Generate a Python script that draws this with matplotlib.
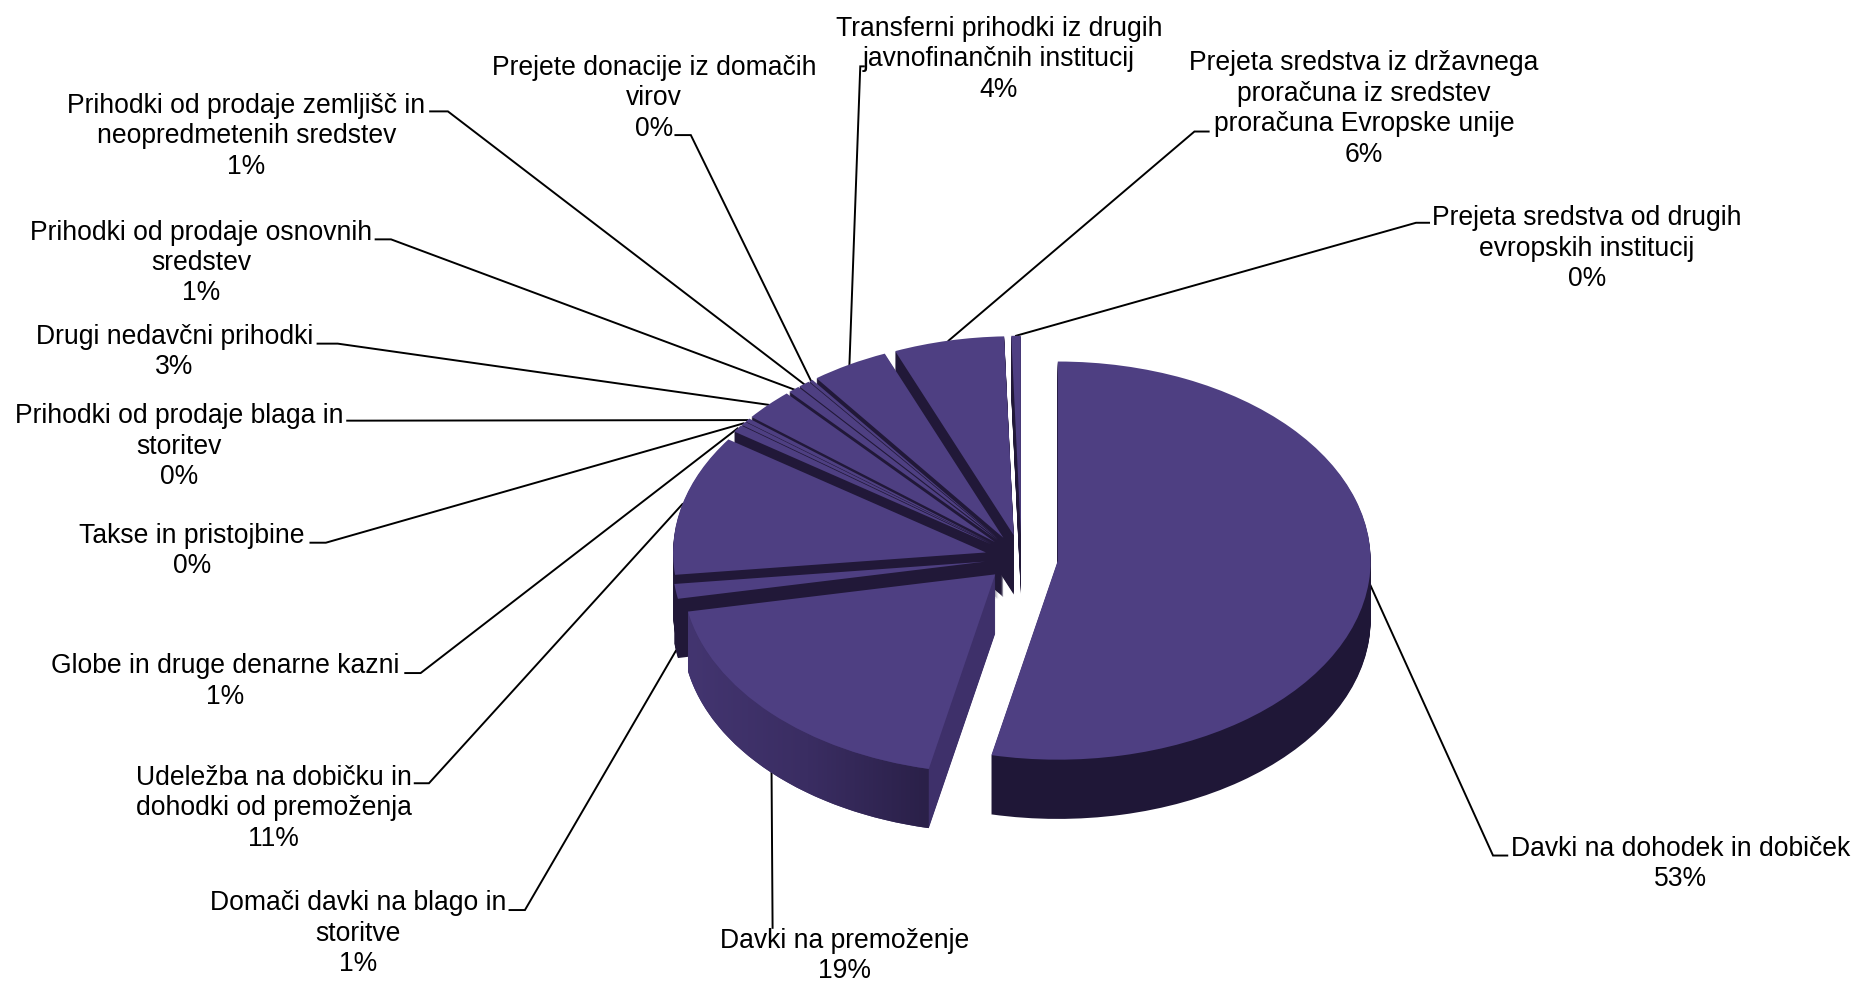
import numpy as np
import matplotlib
matplotlib.use("Agg")
import matplotlib.pyplot as plt
from matplotlib.colors import LinearSegmentedColormap
from matplotlib.patches import Polygon

plt.rcParams['font.family'] = ['Liberation Sans', 'DejaVu Sans']

# --- data -------------------------------------------------------------
categories = [
    "Davki na dohodek in dobiček\n53%",
    "Davki na premoženje\n19%",
    "Domači davki na blago in\nstoritve\n1%",
    "Udeležba na dobičku in\ndohodki od premoženja\n11%",
    "Globe in druge denarne kazni\n1%",
    "Takse in pristojbine\n0%",
    "Prihodki od prodaje blaga in\nstoritev\n0%",
    "Drugi nedavčni prihodki\n3%",
    "Prihodki od prodaje osnovnih\nsredstev\n1%",
    "Prihodki od prodaje zemljišč in\nneopredmetenih sredstev\n1%",
    "Prejete donacije iz domačih\nvirov\n0%",
    "Transferni prihodki iz drugih\njavnofinančnih institucij\n4%",
    "Prejeta sredstva iz državnega\nproračuna iz sredstev\nproračuna Evropske unije\n6%",
    "Prejeta sredstva od drugih\nevropskih institucij\n0%",
]
values = [53.4, 18.6, 1.2, 11.4, 0.6, 0.3, 0.3, 2.6, 0.6, 0.6, 0.2, 4.0, 5.7, 0.49]

# label layout, measured on a 1568-wide view of the picture
label_x = [1418, 713, 302, 231, 190, 162, 151, 147, 170, 208, 552, 843, 1151, 1339]
label_y = [729, 807, 788, 682, 575, 465, 377, 297, 222, 115, 83, 50, 92, 210]
elbow_a = [(1260, 722), (652, 783), (443, 768), (362, 661), (355, 568), (275, 458),
           (305, 355), (285, 290), (330, 202), (378, 94), (583, 114), (726, 56),
           (1008, 111), (1195, 188)]
elbow_b = [(1272, 722), (652, 783), (430, 768), (350, 661), (342, 568), (262, 458),
           (293, 355), (268, 290), (317, 202), (363, 94), (570, 114), (729, 56),
           (1020, 111), (1206, 188)]
leader_drop = [0, 0, 1, 0, 0, 0, 0, 0, 0, 0, 0, 0, 0, 0]

# --- style ------------------------------------------------------------
W, H = 1858, 983
VIEW = W / 1568
TOP = '#4e3f82'
DARK = '#211838'
BIG_SIDE = '#1f1737'
PREM_WALL = '#3e306a'
EXPLODE = [0.117] * len(values)
CX, CY = 862 * VIEW, 471 * VIEW      # centre in pixels
RX, RY = 264 * VIEW, 168 * VIEW      # radii in pixels
DEPTH_PX = 50 * VIEW

fig = plt.figure(figsize=(W / 100, H / 100), dpi=100, facecolor='white')
ax = fig.add_axes([0, 0, 1, 1])


def to_data(p):
    return ((p[0] * VIEW - CX) / RX, (CY - p[1] * VIEW) / RY)


side_colors = [BIG_SIDE, PREM_WALL] + [DARK] * (len(values) - 2)
dz = DEPTH_PX / RY
n_layers = int(round(DEPTH_PX))
for z in np.linspace(dz, 0, n_layers, endpoint=False):
    ax.pie(values, explode=EXPLODE, colors=side_colors, startangle=90,
           counterclock=False, center=(0, -z), radius=1,
           wedgeprops=dict(linewidth=0))

top, _ = ax.pie(values, explode=EXPLODE, colors=[TOP] * len(values), startangle=90,
                counterclock=False, center=(0, 0), radius=1,
                wedgeprops=dict(linewidth=0))
for w in top:
    w.set_zorder(2)

# gradient on the outer side of the second slice
w = top[1]
t = np.radians(np.linspace(w.theta1, w.theta2, 120))
ux, uy = w.center[0] + w.r * np.cos(t), w.center[1] + w.r * np.sin(t)
band = np.r_[np.c_[ux, uy], np.c_[ux, uy - dz][::-1]]
clip = Polygon(band, closed=True, transform=ax.transData, facecolor='none', edgecolor='none')
ax.add_patch(clip)
cmap = LinearSegmentedColormap.from_list('side', ['#433570', '#3a2d62', '#2a2048'])
im = ax.imshow(np.linspace(0, 1, 256)[None, :], cmap=cmap, aspect='auto', zorder=1.5,
               extent=[ux.min(), ux.max(), band[:, 1].min(), band[:, 1].max()])
im.set_clip_path(clip)

# leader lines start on the rim of each slice and run beneath the pie
for w, a, b, drop in zip(top, elbow_a, elbow_b, leader_drop):
    mid = np.radians((w.theta1 + w.theta2) / 2)
    start = (w.center[0] + w.r * np.cos(mid), w.center[1] + w.r * np.sin(mid) - drop * dz)
    pa, pb = to_data(a), to_data(b)
    ax.plot([start[0], pa[0], pb[0]], [start[1], pa[1], pb[1]],
            color='black', lw=1.4, zorder=0.5, solid_joinstyle='miter')

for text, x, y in zip(categories, label_x, label_y):
    px, py = to_data((x, y))
    ax.text(px, py, text, ha='center', va='center', fontsize=19.1, color='black',
            linespacing=1.22, zorder=3)

ax.set_aspect('auto')
ax.set_xlim(-CX / RX, (W - CX) / RX)
ax.set_ylim((CY - H) / RY, CY / RY)
ax.axis('off')
fig.savefig('out.png', dpi=100, facecolor='white')
